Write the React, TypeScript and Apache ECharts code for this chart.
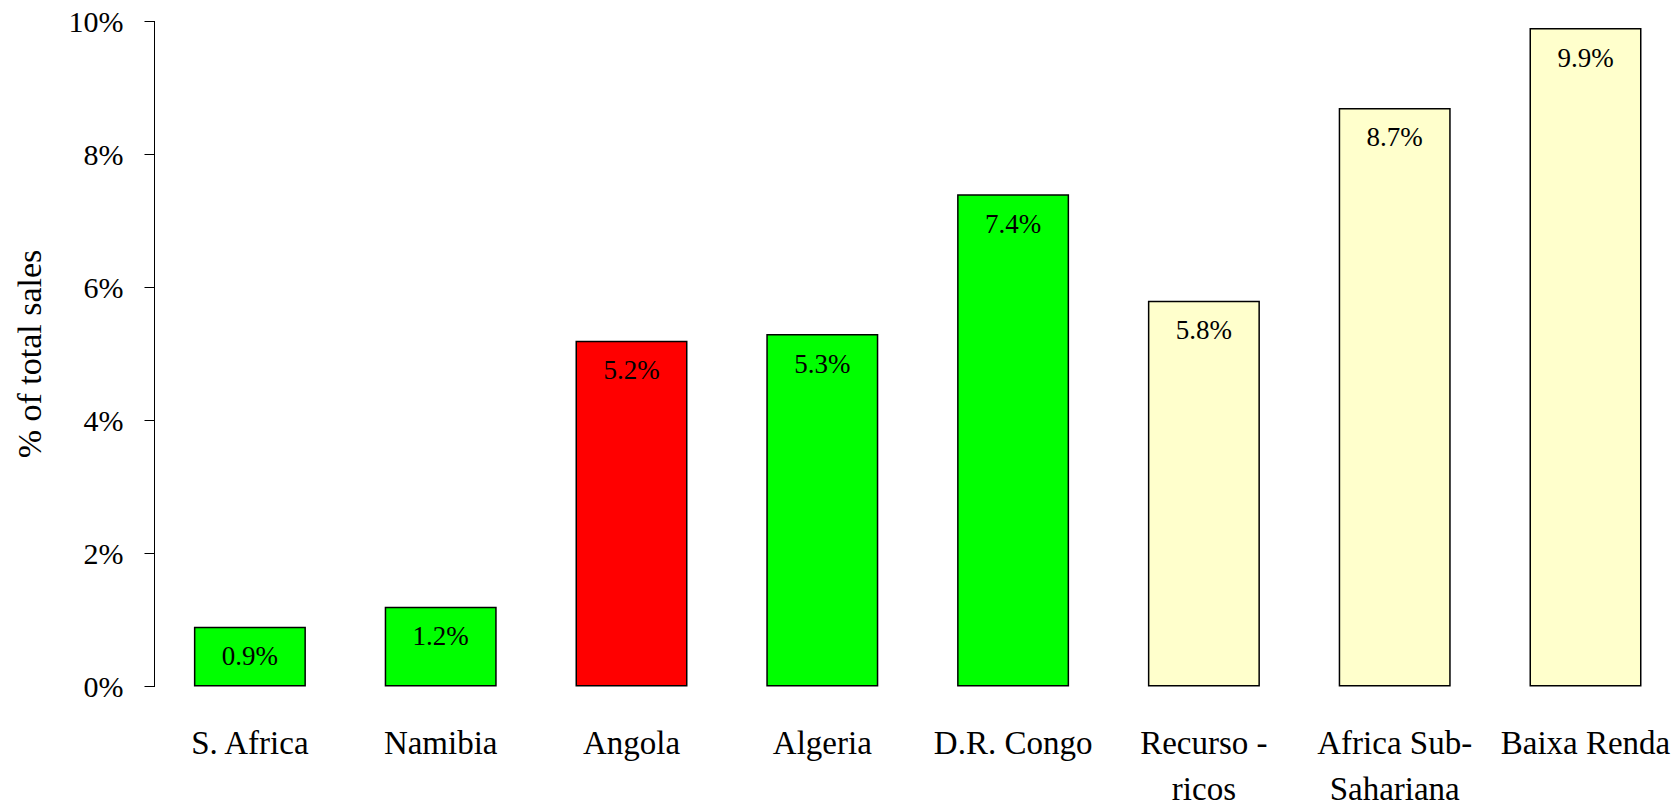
import React, { useEffect, useRef } from "react";
import * as echarts from "echarts";

const categories = [
  "S. Africa",
  "Namibia",
  "Angola",
  "Algeria",
  "D.R. Congo",
  "Recurso -\nricos",
  "Africa Sub-\nSahariana",
  "Baixa Renda",
];
const salesShare = [0.9, 1.2, 5.2, 5.3, 7.4, 5.8, 8.7, 9.9];
const groups = ["peer", "peer", "focus", "peer", "peer", "region", "region", "region"];
const yTicks = [0, 2, 4, 6, 8, 10];

const groupColor: Record<string, string> = {
  peer: "#00FF00",
  focus: "#FF0000",
  region: "#FFFFCC",
};

const FONT = "'Liberation Serif', 'Times New Roman', serif";

export default function App() {
  const ref = useRef<HTMLDivElement>(null);
  useEffect(() => {
    if (!ref.current) return;
    const chart = echarts.init(ref.current, null, { renderer: "svg" });
    chart.setOption({
      animation: false,
      backgroundColor: "#ffffff",
      grid: {
        left: 154.5,
        top: 21.4,
        height: 665.2,
        width: 1526.4,
        containLabel: false,
        outerBoundsMode: "none",
      },
      xAxis: {
        type: "category",
        data: categories,
        axisLine: { show: false },
        axisTick: { show: false },
        axisLabel: {
          fontFamily: FONT,
          fontSize: 33,
          color: "#000",
          margin: 33,
          lineHeight: 46,
          interval: 0,
        },
      },
      yAxis: {
        type: "value",
        min: yTicks[0],
        max: yTicks[yTicks.length - 1],
        interval: 2,
        name: "% of total sales",
        nameLocation: "middle",
        nameRotate: 90,
        nameGap: 108,
        nameTextStyle: { fontFamily: FONT, fontSize: 34, color: "#000" },
        splitLine: { show: false },
        axisLine: { show: true, lineStyle: { color: "#000", width: 1 } },
        axisTick: { show: true, length: 10, lineStyle: { color: "#000", width: 1 } },
        axisLabel: {
          fontFamily: FONT,
          fontSize: 30,
          color: "#000",
          margin: 31,
          formatter: (v: number) => `${v}%`,
        },
      },
      series: [
        {
          type: "bar",
          data: salesShare.map((v, i) => ({
            value: v,
            itemStyle: { color: groupColor[groups[i]] },
          })),
          barWidth: "58.7%",
          itemStyle: { borderColor: "#000", borderWidth: 1.5 },
          label: {
            show: true,
            position: "insideTop",
            distance: 16,
            fontFamily: FONT,
            fontSize: 27,
            color: "#000",
            formatter: (p: any) => `${p.value.toFixed(1)}%`,
          },
        },
      ],
    });
    return () => chart.dispose();
  }, []);
  return (
    <div
      ref={ref}
      style={{ position: "absolute", left: 0, top: 0, width: 1677, height: 802 }}
    />
  );
}
